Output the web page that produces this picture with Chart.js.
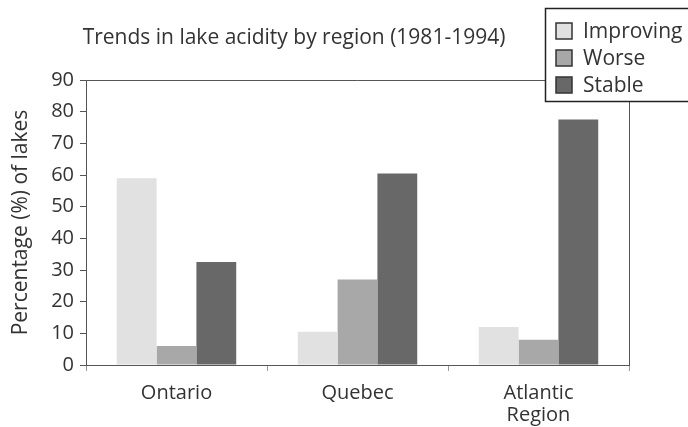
<!DOCTYPE html>
<html>
<head>
<meta charset="utf-8">
<script src="https://cdn.jsdelivr.net/npm/chart.js@4/dist/chart.umd.min.js"></script>
<style>
html,body{margin:0;padding:0;background:#fff;}
#wrap{width:688px;height:427px;position:relative;}
</style>
</head>
<body>
<div id="wrap"><canvas id="c" width="688" height="427"></canvas></div>
<script>
const categories = [["Ontario"], ["Quebec"], ["Atlantic", "Region"]];
const improving = [59, 10.5, 12];
const worse = [6, 27, 8];
const stable = [32.5, 60.5, 77.5];
const yTicks = [0, 10, 20, 30, 40, 50, 60, 70, 80, 90];
const seriesNames = ["Improving", "Worse", "Stable"];
const titleText = "Trends in lake acidity by region (1981-1994)";
const yTitle = "Percentage (%) of lakes";

const FONT = "'Open Sans', 'Noto Sans', sans-serif";
const colors = ["#e1e1e1", "#a8a8a8", "#686868"];

const overlay = {
  id: 'overlay',
  afterDraw(chart) {
    const ctx = chart.ctx;
    const a = chart.chartArea;
    ctx.save();
    // plot frame (top and right)
    ctx.strokeStyle = '#555';
    ctx.lineWidth = 1;
    ctx.beginPath();
    ctx.moveTo(a.left, a.top + 0.5);
    ctx.lineTo(a.right + 0.5, a.top + 0.5);
    ctx.lineTo(a.right + 0.5, a.bottom);
    ctx.stroke();
    // title
    ctx.fillStyle = '#333';
    ctx.font = "21px " + FONT;
    ctx.textAlign = 'center';
    ctx.textBaseline = 'alphabetic';
    ctx.fillText(titleText, 294, 44);
    // legend
    ctx.fillStyle = '#fff';
    ctx.fillRect(545, 8, 150, 94);
    ctx.strokeStyle = '#222';
    ctx.lineWidth = 1.5;
    ctx.strokeRect(545.5, 8.5, 150, 93);
    chart.data.datasets.forEach((ds, i) => {
      const cy = 31 + i * 27;
      ctx.fillStyle = ds.backgroundColor;
      ctx.fillRect(556, cy - 8, 16, 16);
      ctx.strokeStyle = '#333';
      ctx.lineWidth = 1.5;
      ctx.strokeRect(556, cy - 8, 16, 16);
      ctx.fillStyle = '#333';
      ctx.font = "21px " + FONT;
      ctx.textAlign = 'left';
      ctx.textBaseline = 'middle';
      ctx.fillText(ds.label, 583, cy + 1);
    });
    ctx.restore();
  }
};

new Chart(document.getElementById('c'), {
  type: 'bar',
  data: {
    labels: categories,
    datasets: [
      { label: seriesNames[0], data: improving, backgroundColor: colors[0] },
      { label: seriesNames[1], data: worse, backgroundColor: colors[1] },
      { label: seriesNames[2], data: stable, backgroundColor: colors[2] }
    ]
  },
  options: {
    responsive: false,
    animation: false,
    devicePixelRatio: 1,
    layout: { padding: { top: 80, right: 59, left: 0, bottom: 0 } },
    datasets: { bar: { categoryPercentage: 0.66, barPercentage: 1.0 } },
    plugins: {
      legend: { display: false },
      title: { display: false },
      tooltip: { enabled: false }
    },
    scales: {
      x: {
        grid: { display: true, drawOnChartArea: false, drawTicks: true, tickLength: 6, color: '#999', offset: true },
        border: { display: true, color: '#555', width: 1 },
        ticks: { color: '#333', font: { family: FONT, size: 20, lineHeight: 1.1 }, padding: 11 },
        afterFit(s) { s.height = 62; }
      },
      y: {
        min: 0, max: 90,
        afterBuildTicks(s) { s.ticks = yTicks.map(v => ({ value: v })); },
        grid: { display: true, drawOnChartArea: false, drawTicks: true, tickLength: 6, color: '#555' },
        border: { display: true, color: '#555', width: 1 },
        ticks: { color: '#333', font: { family: FONT, size: 20 }, padding: 6 },
        title: { display: true, text: yTitle, color: '#333', font: { family: FONT, size: 21 }, padding: { top: 8, bottom: 0 } },
        afterFit(s) { s.width = 86; }
      }
    }
  },
  plugins: [overlay]
});
</script>
</body>
</html>
